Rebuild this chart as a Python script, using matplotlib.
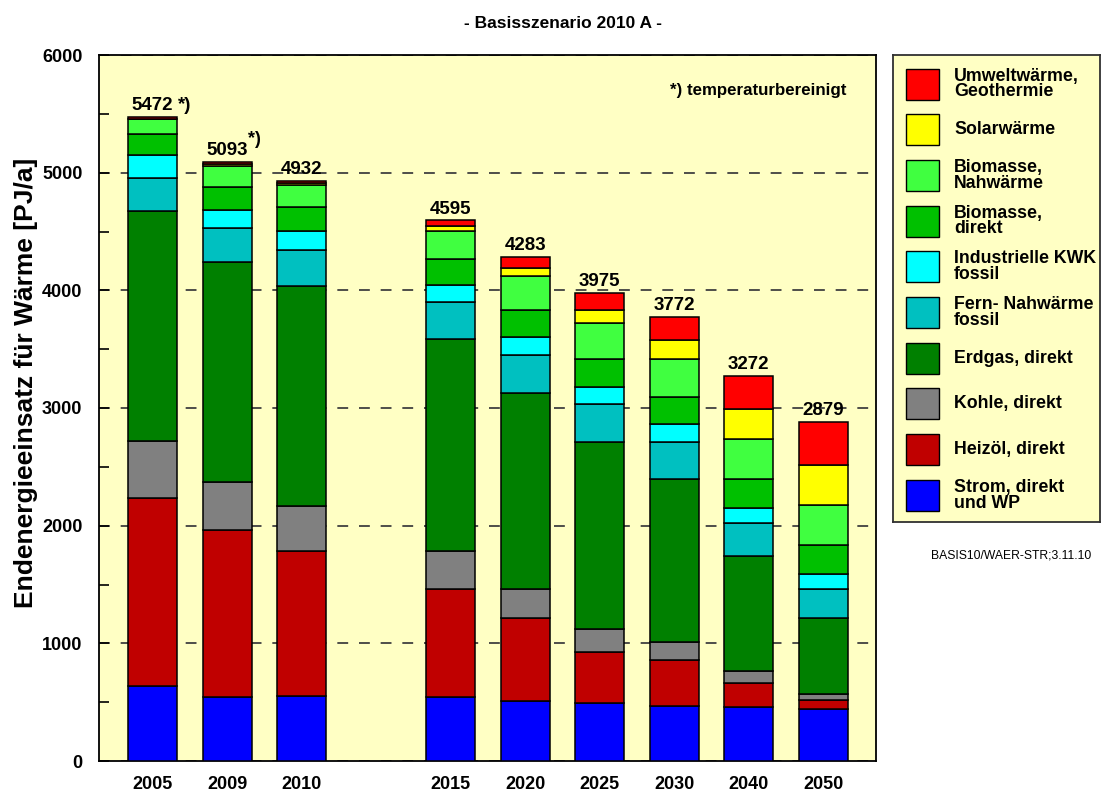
import numpy as np
import matplotlib
matplotlib.use("Agg")
import matplotlib.pyplot as plt
from matplotlib.patches import Rectangle

plt.rcParams['font.family'] = ['Liberation Sans', 'DejaVu Sans']
plt.rcParams['font.weight'] = 'bold'

years = ['2005', '2009', '2010', '2015', '2020', '2025', '2030', '2040', '2050']

# PJ/a, stacked bottom -> top
strom   = [635, 541, 552, 541, 507, 490, 467, 456, 439]
heizoel = [1597, 1425, 1230, 921, 706, 434, 391, 210, 77]
kohle   = [485, 408, 382, 323, 249, 198, 151, 99, 51]
erdgas  = [1960, 1867, 1876, 1798, 1668, 1586, 1388, 975, 651]
fern    = [280, 291, 306, 315, 323, 323, 317, 280, 244]
ind_kwk = [193, 153, 156, 145, 153, 147, 147, 133, 125]
bio_dir = [178, 196, 206, 223, 229, 236, 235, 241, 246]
bio_nah = [128, 176, 187, 241, 289, 306, 323, 345, 343]
solar   = [4, 15, 15, 40, 68, 110, 159, 250, 342]
umwelt  = [12, 21, 22, 48, 91, 145, 194, 283, 361]

series = [strom, heizoel, kohle, erdgas, fern, ind_kwk, bio_dir, bio_nah, solar, umwelt]
labels = ['Strom, direkt\nund WP', 'Heizöl, direkt', 'Kohle, direkt', 'Erdgas, direkt',
          'Fern- Nahwärme\nfossil', 'Industrielle KWK\nfossil', 'Biomasse,\ndirekt',
          'Biomasse,\nNahwärme', 'Solarwärme', 'Umweltwärme,\nGeothermie']
colors = ['#0000FF', '#C00000', '#808080', '#008000', '#00C0C0', '#00FFFF',
          '#00C000', '#40FF40', '#FFFF00', '#FF0000']
starred = ['2005', '2009']

W, H = 1103, 794
fig = plt.figure(figsize=(W / 100, H / 100), dpi=100)
bg = '#FFFFC4'

ax = fig.add_axes([99 / W, (H - 761) / H, (876 - 99) / W, (761 - 55) / H])
ax.set_facecolor(bg)

n = len(years)
x = np.arange(n) + (np.arange(n) >= 3)
bottom = np.zeros(n)
for vals, col in zip(series, colors):
    ax.bar(x, vals, width=0.66, bottom=bottom, color=col, edgecolor='black',
           linewidth=1.1, zorder=3)
    bottom += np.array(vals)

for xi, tot, yr in zip(x, bottom, years):
    ax.annotate(f"{int(tot)}", (xi, tot), xytext=(0, 2), textcoords='offset points',
                ha='center', va='bottom', fontsize=13.5, fontweight='bold', zorder=4)
    if yr == '2005':
        ax.annotate("*)", (xi, tot), xytext=(18, 2), textcoords='offset points',
                    ha='left', va='bottom', fontsize=13.5, fontweight='bold')
    elif yr in starred:
        ax.annotate("*)", (xi, tot), xytext=(15, 10), textcoords='offset points',
                    ha='left', va='bottom', fontsize=13, fontweight='bold')

ax.set_xlim(-0.72, 9.71)
ax.set_ylim(0, 6000)
ax.set_yticks(np.arange(0, 6001, 1000))
ax.set_yticks(np.arange(500, 6000, 1000), minor=True)
ax.set_xticks(x)
ax.set_xticklabels(years)
ax.tick_params(axis='y', which='both', direction='in', length=7, width=1.2, pad=12,
               labelsize=13)
ax.tick_params(axis='x', length=0, pad=11, labelsize=13)
for lab in ax.get_xticklabels() + ax.get_yticklabels():
    lab.set_fontweight('bold')
ax.yaxis.grid(True, which='major', linestyle=(0, (6, 6)), color='#404040',
              linewidth=1.3, zorder=1)
for s in ax.spines.values():
    s.set_linewidth(1.3)

ax.text(0.9625, 0.95, "*) temperaturbereinigt", transform=ax.transAxes, ha='right',
        va='center', fontsize=12.2, fontweight='bold')

fig.text(563 / W, 1 - 23 / H, "- Basisszenario 2010 A -", ha='center', va='center',
         fontsize=12.5, fontweight='bold')
fig.text(26 / W, 1 - 383 / H, "Endenergieeinsatz für Wärme [PJ/a]", rotation=90,
         ha='center', va='center', fontsize=19, fontweight='bold')
fig.text(1011 / W, 1 - 555 / H, "BASIS10/WAER-STR;3.11.10", ha='center', va='center',
         fontsize=8.7, fontweight='normal')

# legend box
lw, lh = 1100 - 893, 522 - 55
lax = fig.add_axes([893 / W, (H - 522) / H, lw / W, lh / H])
lax.set_facecolor(bg)
lax.set_xlim(0, lw)
lax.set_ylim(lh, 0)
lax.set_xticks([])
lax.set_yticks([])
for s in lax.spines.values():
    s.set_linewidth(1.3)
    s.set_color('#303030')
for i, (lab, col) in enumerate(zip(labels[::-1], colors[::-1])):
    top = 13.5 + i * 45.7
    lax.add_patch(Rectangle((13, top), 33, 31, facecolor=col, edgecolor='black',
                            linewidth=1.0))
    lax.text(61, top + 15.5, lab, ha='left', va='center', fontsize=12.8,
             fontweight='bold', linespacing=0.9, zorder=5)

fig.savefig('out.png', dpi=100, facecolor='white')
